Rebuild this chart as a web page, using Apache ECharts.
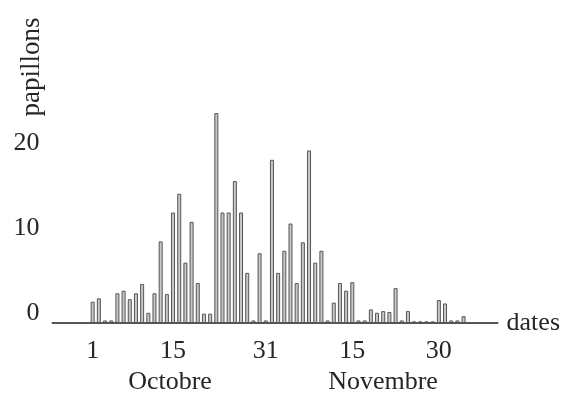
<!DOCTYPE html>
<html>
<head>
<meta charset="utf-8">
<script src="https://cdn.jsdelivr.net/npm/echarts@6/dist/echarts.min.js"></script>
<style>
  html, body { margin: 0; padding: 0; background: #fff; }
  #chart { width: 563px; height: 394px; }
</style>
</head>
<body>
<div id="chart"></div>
<script>
// nombre de papillons par jour
const counts = [
  2.5, 2.9, 0.3, 0.3, 3.5, 3.8, 2.8, 3.5, 4.6, 1.2,
  3.5, 9.6, 3.4, 13, 15.2, 7.1, 11.9, 4.7, 1.1, 1.1,
  24.7, 13, 13, 16.7, 13, 5.9, 0.3, 8.2, 0.3, 19.2,
  5.9, 8.5, 11.7, 4.7, 9.5, 20.3, 7.1, 8.5, 0.3, 2.4,
  4.7, 3.8, 4.8, 0.3, 0.3, 1.6, 1.2, 1.4, 1.3, 4.1,
  0.3, 1.4, 0.2, 0.2, 0.2, 0.2, 2.7, 2.3, 0.3, 0.3,
  0.8
]
// étiquettes de dates (index de barre -> texte)
const dateTicks = { 0: "1", 13: "15", 28: "31", 42: "15", 56: "30" }
const months = ["Octobre", "Novembre"]
const yTicks = [0, 10, 20]

const LEAD = 6
const TRAIL = 5
const FONT = "Liberation Serif"
const INK = "#262626"

const categories = []
const values = []
for (let i = 0; i < LEAD; i++) { categories.push(""); values.push(null) }
counts.forEach((v, i) => { categories.push(dateTicks[i] || ""); values.push(v) })
for (let i = 0; i < TRAIL; i++) { categories.push(""); values.push(null) }

const chart = echarts.init(document.getElementById("chart"))
chart.setOption({
  backgroundColor: "#fff",
  animation: false,
  grid: { left: 52.5, top: 110.5, width: 445.7, height: 212.5 },
  xAxis: {
    type: "category",
    data: categories,
    name: "dates",
    nameLocation: "end",
    nameGap: 9,
    nameTextStyle: { fontFamily: FONT, fontSize: 26, color: INK, verticalAlign: "middle" },
    axisLine: { lineStyle: { color: "#555", width: 2 } },
    axisTick: { show: false },
    axisLabel: { interval: 0, margin: 15, fontFamily: FONT, fontSize: 26, color: INK },
  },
  yAxis: {
    type: "value",
    min: 0,
    max: 25,
    interval: 10,
    axisLine: { show: false },
    axisTick: { show: false },
    splitLine: { show: false },
    axisLabel: {
      margin: 13,
      fontFamily: FONT,
      fontSize: 26,
      color: INK,
      verticalAlign: "bottom",
      lineHeight: 19,
      formatter: (v) => (yTicks.includes(v) ? String(v) : ""),
    },
  },
  graphic: [
    {
      type: "text", x: 32, y: 67, rotation: Math.PI / 2,
      style: { text: "papillons", font: "27px " + FONT, fill: INK, textAlign: "center", textVerticalAlign: "middle" },
    },
    {
      type: "text", x: 170, y: 382,
      style: { text: months[0], font: "26px " + FONT, fill: INK, textAlign: "center", textVerticalAlign: "middle" },
    },
    {
      type: "text", x: 383, y: 382,
      style: { text: months[1], font: "26px " + FONT, fill: INK, textAlign: "center", textVerticalAlign: "middle" },
    },
  ],
  series: [
    {
      type: "bar",
      data: values,
      barWidth: 4,
      itemStyle: { color: "#c8c8c8", borderColor: "#555", borderWidth: 1 },
    },
  ],
})
</script>
</body>
</html>
